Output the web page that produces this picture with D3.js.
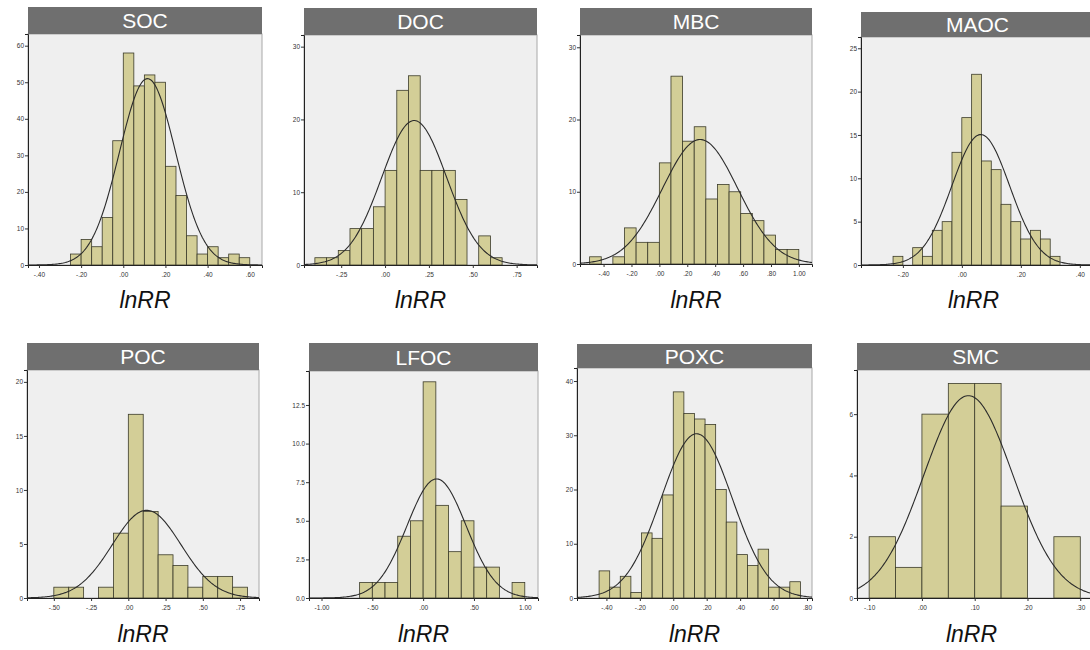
<!DOCTYPE html>
<html>
<head>
<meta charset="utf-8">
<script src="https://cdn.jsdelivr.net/npm/d3@7/dist/d3.min.js"></script>
<style>
    body { margin: 0; background: #fff; }
    text { font-family: 'Liberation Sans', Arial, sans-serif; }
</style>
</head>
<body>
<div id="histograms"></div>
<script>
// panel titles, in reading order
var panelNames = ['SOC', 'DOC', 'MBC', 'MAOC', 'POC', 'LFOC', 'POXC', 'SMC'];

// bar heights (frequency)
var socCounts = [3, 7, 5, 13, 34, 58, 49, 52, 50, 27, 19, 8, 3, 5, 2, 3, 2];
var docCounts = [1, 1, 2, 5, 5, 8, 13, 24, 26, 13, 13, 13, 9, 0, 4, 1];
var mbcCounts = [1, 0, 1, 5, 3, 3, 14, 26, 17, 19, 9, 11, 10, 7, 6, 4, 2, 2];
var maocCounts = [1, 0, 2, 1, 4, 5, 13, 17, 22, 12, 11, 7, 5, 3, 4, 3, 1];
var pocCounts = [1, 1, 0, 1, 6, 17, 8, 4, 3, 1, 2, 2, 1];
var lfocCounts = [1, 1, 1, 4, 5, 14, 6, 3, 5, 2, 2, 0, 1];
var poxcCounts = [5, 2, 4, 1, 12, 11, 19, 38, 34, 33, 32, 20, 14, 8, 6, 9, 2, 2, 3];
var smcCounts = [2, 1, 6, 7, 7, 3, 0, 2];
var allCounts = [socCounts, docCounts, mbcCounts, maocCounts, pocCounts, lfocCounts, poxcCounts, smcCounts];

// first bin edge and bin width (lnRR units)
var binStarts = [-0.25, -0.4, -0.5, -0.2333, -0.5, -0.625, -0.4438, -0.1];
var binWidths = [0.05, 0.0667, 0.0833, 0.0333, 0.1, 0.125, 0.0634, 0.05];

// fitted normal curve: mean and sd
var curveMeans = [0.115, 0.166, 0.292, 0.064, 0.123, 0.132, 0.14, 0.088];
var curveSds = [0.133, 0.185, 0.27, 0.098, 0.231, 0.291, 0.213, 0.0846];

// axis extents
var xExtents = [[-0.452, 0.658], [-0.462, 0.866], [-0.569, 1.094], [-0.342, 0.448],
    [-0.68, 0.877], [-1.123, 1.13], [-0.576, 0.83], [-0.123, 0.326]];
var yMaxes = [63.2, 31.6, 31.7, 26.3, 21.1, 14.7, 42.4, 7.44];

// tick values
var xTicks = [
    [-0.4, -0.2, 0, 0.2, 0.4, 0.6],
    [-0.25, 0, 0.25, 0.5, 0.75],
    [-0.4, -0.2, 0, 0.2, 0.4, 0.6, 0.8, 1.0],
    [-0.2, 0, 0.2, 0.4],
    [-0.5, -0.25, 0, 0.25, 0.5, 0.75],
    [-1.0, -0.5, 0, 0.5, 1.0],
    [-0.4, -0.2, 0, 0.2, 0.4, 0.6, 0.8],
    [-0.1, 0, 0.1, 0.2, 0.3]
];
var yTicks = [
    [0, 10, 20, 30, 40, 50, 60],
    [0, 10, 20, 30],
    [0, 10, 20, 30],
    [0, 5, 10, 15, 20, 25],
    [0, 5, 10, 15, 20],
    [0, 2.5, 5, 7.5, 10, 12.5],
    [0, 10, 20, 30, 40],
    [0, 2, 4, 6]
];
var yDecimals = [0, 0, 0, 0, 0, 1, 0, 0];
var axisTitle = 'lnRR';

// panel boxes: left, title top, plot top, right, bottom
var boxes = [
    [28, 7, 34, 262, 265],
    [304, 8, 35, 537, 265],
    [580, 8, 35, 812, 264],
    [861, 12, 37, 1094, 265],
    [27, 343, 370, 259, 598],
    [309, 343, 371, 538, 598],
    [577, 344, 368, 812, 598],
    [857, 343, 370, 1094, 598]
];
var labelY = [308, 308, 308, 308, 642, 642, 642, 642];

var svg = d3.select('#histograms')
    .append('svg')
    .attr('width', 1090)
    .attr('height', 650);

// SPSS style: "-.40", ".00", "1.00"
function spssFormat(v) {
    var s = Math.abs(v).toFixed(2).replace(/^0\./, '.');
    return (v < 0 ? '-' : '') + s;
}

panelNames.forEach(function (name, i) {
    var b = boxes[i];
    var left = b[0], titleTop = b[1], top = b[2], right = b[3], bottom = b[4];
    var counts = allCounts[i];
    var bw = binWidths[i];
    var total = d3.sum(counts);

    var x = d3.scaleLinear().domain(xExtents[i]).range([left, right]);
    var y = d3.scaleLinear().domain([0, yMaxes[i]]).range([bottom, top]);

    var g = svg.append('g');

    // plot background + frame
    g.append('rect')
        .attr('x', left)
        .attr('y', top)
        .attr('width', right - left)
        .attr('height', bottom - top)
        .attr('fill', '#efefef')
        .attr('stroke', '#a8a8a8')
        .attr('stroke-width', 1);

    // title bar
    g.append('rect')
        .attr('x', left)
        .attr('y', titleTop)
        .attr('width', right - left)
        .attr('height', top - titleTop)
        .attr('fill', '#6f6f6f');

    g.append('text')
        .attr('x', (left + right) / 2)
        .attr('y', (titleTop + top) / 2)
        .attr('dy', '0.36em')
        .attr('text-anchor', 'middle')
        .attr('fill', '#fff')
        .attr('font-size', 21)
        .text(name);

    // bars (empty bins skipped)
    var bins = counts.map(function (c, j) {
        return {x0: binStarts[i] + j * bw, x1: binStarts[i] + (j + 1) * bw, n: c};
    }).filter(function (d) { return d.n > 0; });

    g.append('g')
        .selectAll('rect')
        .data(bins)
        .enter()
        .append('rect')
        .attr('x', function (d) { return x(d.x0); })
        .attr('y', function (d) { return y(d.n); })
        .attr('width', function (d) { return x(d.x1) - x(d.x0); })
        .attr('height', function (d) { return y(0) - y(d.n); })
        .attr('fill', '#d3ce97')
        .attr('stroke', '#3b3b2a')
        .attr('stroke-width', 0.8);

    // normal curve
    var mu = curveMeans[i], sd = curveSds[i];
    var xs = d3.range(xExtents[i][0], xExtents[i][1], (xExtents[i][1] - xExtents[i][0]) / 200);
    xs.push(xExtents[i][1]);
    var line = d3.line()
        .x(function (v) { return x(v); })
        .y(function (v) {
            var z = (v - mu) / sd;
            return y(total * bw * Math.exp(-0.5 * z * z) / (sd * Math.sqrt(2 * Math.PI)));
        });
    g.append('path')
        .datum(xs)
        .attr('d', line)
        .attr('fill', 'none')
        .attr('stroke', '#2b2b2b')
        .attr('stroke-width', 1.1);

    // axes
    var xAxis = g.append('g')
        .attr('transform', 'translate(0,' + bottom + ')')
        .call(d3.axisBottom(x).tickValues(xTicks[i]).tickSize(3).tickFormat(spssFormat));
    var yAxis = g.append('g')
        .attr('transform', 'translate(' + left + ',0)')
        .call(d3.axisLeft(y).tickValues(yTicks[i]).tickSize(3)
            .tickFormat(d3.format('.' + yDecimals[i] + 'f')));

    [xAxis, yAxis].forEach(function (ax) {
        ax.select('.domain').attr('stroke', '#222');
        ax.selectAll('.tick line').attr('stroke', '#333');
        ax.selectAll('.tick text')
            .attr('font-size', 6.5)
            .attr('fill', '#333')
            .attr('font-family', "'Liberation Sans', Arial, sans-serif");
    });
    xAxis.selectAll('.tick text').attr('dy', '0.9em');
    yAxis.selectAll('.tick text').attr('x', -4);

    // axis title
    g.append('text')
        .attr('x', (left + Math.min(right, 1090)) / 2 + (right > 1090 ? -2 : 0))
        .attr('y', labelY[i])
        .attr('text-anchor', 'middle')
        .attr('font-size', 23)
        .attr('font-style', 'italic')
        .attr('fill', '#111')
        .text(axisTitle);
});
</script>
</body>
</html>
